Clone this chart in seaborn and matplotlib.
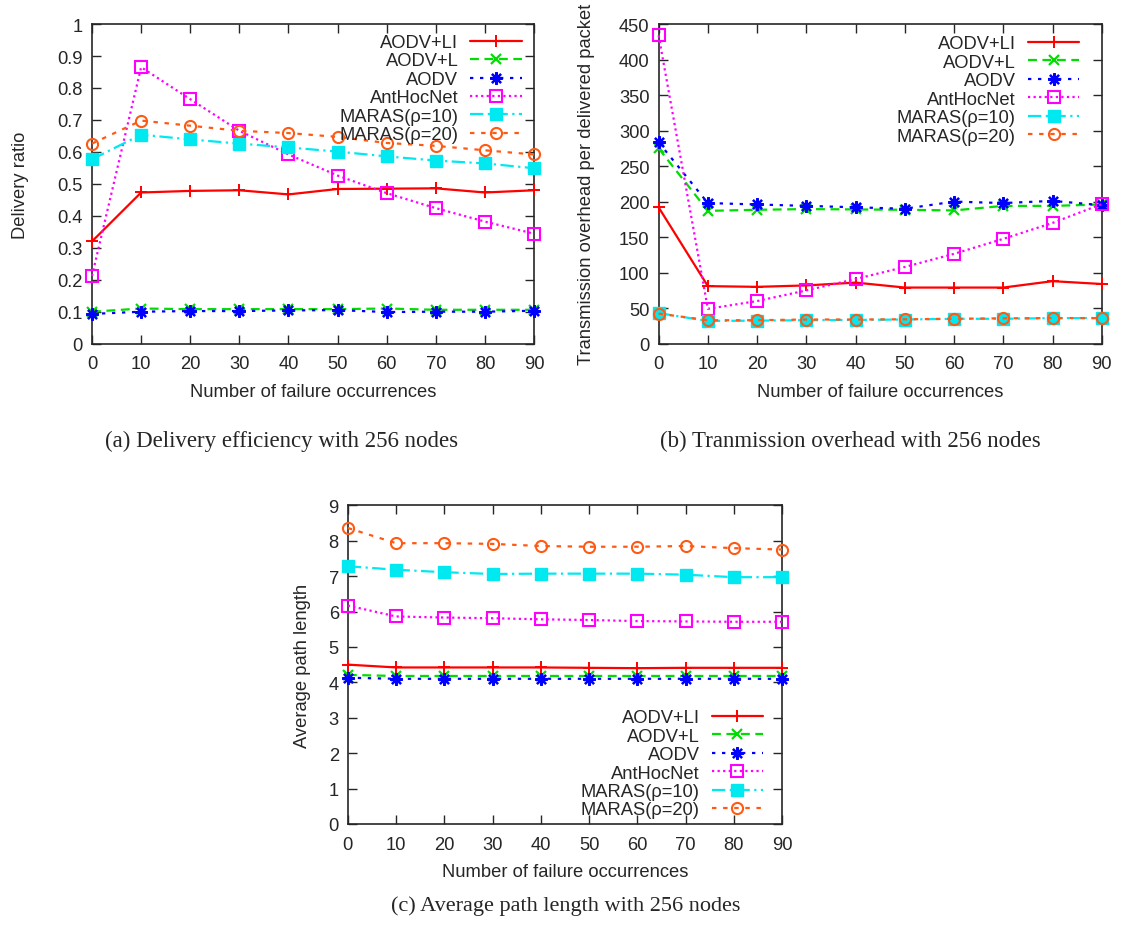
import numpy as np
import pandas as pd
import matplotlib
matplotlib.use("Agg")
import matplotlib.pyplot as plt
import seaborn as sns

sns.set_style("ticks")
plt.rcParams['font.family'] = ['Liberation Sans', 'DejaVu Sans']

failures = [0, 10, 20, 30, 40, 50, 60, 70, 80, 90]
series_names = ["AODV+LI", "AODV+L", "AODV", "AntHocNet", "MARAS(ρ=10)", "MARAS(ρ=20)"]

# (a) Delivery ratio
delivery_aodv_li = [0.32, 0.473, 0.478, 0.48, 0.467, 0.484, 0.485, 0.486, 0.473, 0.48]
delivery_aodv_l = [0.100, 0.110, 0.108, 0.108, 0.108, 0.108, 0.110, 0.106, 0.106, 0.106]
delivery_aodv = [0.093, 0.100, 0.102, 0.102, 0.104, 0.105, 0.099, 0.100, 0.100, 0.103]
delivery_anthocnet = [0.212, 0.865, 0.765, 0.666, 0.592, 0.526, 0.471, 0.424, 0.382, 0.344]
delivery_maras10 = [0.577, 0.654, 0.639, 0.626, 0.614, 0.601, 0.586, 0.573, 0.564, 0.549]
delivery_maras20 = [0.626, 0.698, 0.682, 0.666, 0.659, 0.647, 0.628, 0.619, 0.605, 0.592]

# (b) Transmission overhead
overhead_aodv_li = [192, 81, 80, 82, 86, 79, 79, 79, 88, 84]
overhead_aodv_l = [275, 187, 188.5, 189.5, 189, 188.5, 187.6, 194, 194, 196]
overhead_aodv = [283.5, 198, 196, 194, 192, 190, 200, 198, 201, 195]
overhead_anthocnet = [434, 49, 60, 75, 91, 108, 126.5, 147.6, 170, 196.5]
overhead_maras10 = [43, 32, 32.4, 33, 33.4, 34, 35, 35, 36, 36]
overhead_maras20 = [42.3, 33, 33, 34, 34, 34.3, 35, 35.7, 36, 36]

# (c) Average path length
path_aodv_li = [4.50, 4.42, 4.42, 4.42, 4.42, 4.41, 4.40, 4.41, 4.41, 4.41]
path_aodv_l = [4.21, 4.18, 4.18, 4.18, 4.18, 4.18, 4.18, 4.18, 4.18, 4.18]
path_aodv = [4.13, 4.10, 4.10, 4.10, 4.10, 4.10, 4.10, 4.10, 4.10, 4.10]
path_anthocnet = [6.17, 5.86, 5.83, 5.81, 5.78, 5.76, 5.73, 5.72, 5.71, 5.71]
path_maras10 = [7.28, 7.18, 7.11, 7.06, 7.07, 7.07, 7.07, 7.04, 6.97, 6.97]
path_maras20 = [8.36, 7.93, 7.93, 7.91, 7.85, 7.83, 7.83, 7.85, 7.79, 7.75]

styles = {
    "AODV+LI": dict(color="#ff0000", linestyle="-", marker="+", mfc="none", ms=9, mew=1.4),
    "AODV+L": dict(color="#00dd00", linestyle=(0, (4, 2.5)), marker="x", mfc="none", ms=7, mew=1.6),
    "AODV": dict(color="#0000ff", linestyle=(0, (1.5, 3)), marker=(8, 2, 0), mfc="none", ms=9, mew=1.6),
    "AntHocNet": dict(color="#ff00ff", linestyle=(0, (1, 1.5)), marker="s", mfc="none", ms=8, mew=1.5),
    "MARAS(ρ=10)": dict(color="#00e8f0", linestyle=(0, (6, 2, 1, 2)), marker="s", mfc="#00e8f0", ms=8, mew=1.0),
    "MARAS(ρ=20)": dict(color="#ff5a14", linestyle=(0, (2, 3)), marker="o", mfc="none", ms=8, mew=1.5),
}


def make_df(values):
    rows = []
    for name, vals in zip(series_names, values):
        for x, v in zip(failures, vals):
            rows.append((name, x, v))
    return pd.DataFrame(rows, columns=["series", "failures", "value"])


fig = plt.figure(figsize=(11.22, 9.29), dpi=100)
ax_a = fig.add_axes([0.082, 0.629, 0.394, 0.344])
ax_b = fig.add_axes([0.587, 0.629, 0.395, 0.344])
ax_c = fig.add_axes([0.310, 0.112, 0.387, 0.343])

panels = [
    (ax_a, [delivery_aodv_li, delivery_aodv_l, delivery_aodv, delivery_anthocnet, delivery_maras10, delivery_maras20],
     "Delivery ratio", (0, 1), np.arange(0, 1.01, 0.1), ["0", "0.1", "0.2", "0.3", "0.4", "0.5", "0.6", "0.7", "0.8", "0.9", "1"],
     "upper right", (1.003, 1.012), 20.5),
    (ax_b, [overhead_aodv_li, overhead_aodv_l, overhead_aodv, overhead_anthocnet, overhead_maras10, overhead_maras20],
     "Transmission overhead per delivered packet", (0, 450), np.arange(0, 451, 50), None,
     "upper right", (0.98, 1.008), 17),
    (ax_c, [path_aodv_li, path_aodv_l, path_aodv, path_anthocnet, path_maras10, path_maras20],
     "Average path length", (0, 9), np.arange(0, 10, 1), None,
     "lower right", (0.988, -0.026), 12.5),
]

fs = 13.2
for ax, vals, ylabel, ylim, yticks, yticklabels, loc, anchor, ylpad in panels:
    df = make_df(vals)
    for name in series_names:
        sub = df[df["series"] == name]
        st = styles[name]
        sns.lineplot(data=sub, x="failures", y="value", ax=ax, label=name,
                     color=st["color"], linestyle=st["linestyle"], marker=st["marker"],
                     markerfacecolor=st["mfc"], markeredgecolor=st["color"],
                     markersize=st["ms"], markeredgewidth=st["mew"], linewidth=1.6,
                     clip_on=False, zorder=3)
    ax.set_xlim(0, 90)
    ax.set_ylim(*ylim)
    ax.set_xticks(failures)
    ax.set_yticks(yticks)
    if yticklabels is not None:
        ax.set_yticklabels(yticklabels)
    ax.tick_params(direction="in", top=True, right=True, length=6.5, width=1.0,
                   labelsize=fs)
    ax.tick_params(axis="x", pad=8.5)
    ax.tick_params(axis="y", pad=6.5)
    for sp in ax.spines.values():
        sp.set_visible(True)
        sp.set_linewidth(1.2)
    ax.set_xlabel("Number of failure occurrences", fontsize=fs, labelpad=7.5)
    ax.set_ylabel(ylabel, fontsize=fs, labelpad=ylpad)
    ax.legend(loc=loc, frameon=False, markerfirst=False, fontsize=fs,
              handlelength=2.8, handletextpad=0.65, labelspacing=0.08,
              borderaxespad=0.35, bbox_to_anchor=anchor)

serif = ['Liberation Serif', 'DejaVu Serif']
fig.text(0.2513, 1 - 441 / 929, "(a) Delivery efficiency with 256 nodes", family=serif,
         fontsize=16.5, ha="center", va="center")
fig.text(0.7576, 1 - 441 / 929, "(b) Tranmission overhead with 256 nodes", family=serif,
         fontsize=16.5, ha="center", va="center")
fig.text(0.504, 1 - 906 / 929, "(c) Average path length with 256 nodes", family=serif,
         fontsize=16, ha="center", va="center")

fig.savefig("out.png", dpi=100)
